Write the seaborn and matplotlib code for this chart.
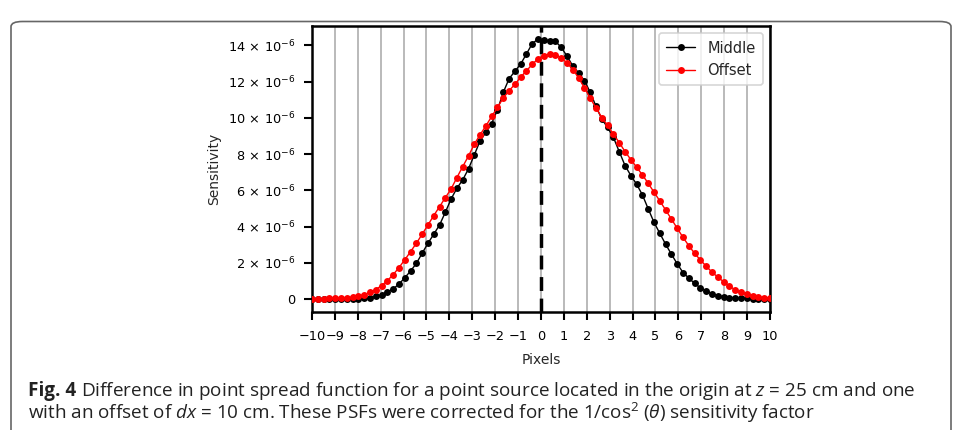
import numpy as np
import pandas as pd
import seaborn as sns
import matplotlib.pyplot as plt
from matplotlib.patches import FancyBboxPatch
from matplotlib.ticker import FuncFormatter

# sensitivity per detector pixel, in units of 1e-6
middle = [0.01, 0.01, 0.01, 0.01, 0.01, 0.02, 0.02, 0.03, 0.03, 0.05,
          0.09, 0.15, 0.24, 0.39, 0.57, 0.83, 1.18, 1.55, 1.97, 2.53,
          3.08, 3.58, 4.09, 4.79, 5.53, 6.12, 6.58, 7.19, 7.96, 8.73,
          9.21, 9.69, 10.45, 11.41, 12.16, 12.57, 12.97, 13.53, 14.10, 14.35,
          14.30, 14.26, 14.22, 13.89, 13.40, 12.86, 12.48, 12.05, 11.41, 10.63,
          9.93, 9.47, 8.92, 8.14, 7.37, 6.82, 6.34, 5.75, 4.98, 4.24,
          3.63, 3.03, 2.48, 1.95, 1.47, 1.16, 0.87, 0.63, 0.44, 0.31,
          0.20, 0.13, 0.09, 0.07, 0.05, 0.04, 0.03, 0.02, 0.02, 0.01]
offset = [0.02, 0.03, 0.03, 0.04, 0.05, 0.06, 0.08, 0.12, 0.17, 0.25,
          0.37, 0.53, 0.75, 1.02, 1.35, 1.74, 2.17, 2.62, 3.08, 3.58,
          4.09, 4.61, 5.10, 5.60, 6.08, 6.71, 7.31, 7.90, 8.55, 9.07,
          9.56, 10.08, 10.58, 11.10, 11.50, 11.85, 12.25, 12.60, 12.95, 13.27,
          13.43, 13.53, 13.49, 13.30, 13.03, 12.66, 12.20, 11.65, 11.09, 10.54,
          10.02, 9.58, 9.10, 8.64, 8.14, 7.70, 7.28, 6.85, 6.39, 5.90,
          5.42, 4.92, 4.42, 3.91, 3.41, 2.95, 2.53, 2.16, 1.82, 1.49,
          1.22, 0.96, 0.72, 0.52, 0.37, 0.26, 0.18, 0.13, 0.09, 0.06]
pixels = np.linspace(-10, 10, len(middle))
x_ticks = list(range(-10, 11))
y_ticks = [0, 2, 4, 6, 8, 10, 12, 14]

fig_label = "Fig. 4"
caption_1 = r"Difference in point spread function for a point source located in the origin at $z$ = 25 cm and one"
caption_2 = r"with an offset of $dx$ = 10 cm. These PSFs were corrected for the 1/cos$^2$ ($\theta$) sensitivity factor"

sns.set_style("ticks")
plt.rcParams["font.family"] = ["DejaVu Sans"]
plt.rcParams["mathtext.rm"] = "Open Sans"
plt.rcParams["mathtext.it"] = "Open Sans:italic"
plt.rcParams["mathtext.bf"] = "Open Sans:bold"

df = pd.DataFrame({"Pixels": pixels,
                   "Middle": np.array(middle) * 1e-6,
                   "Offset": np.array(offset) * 1e-6})

fig = plt.figure(figsize=(9.59, 4.30), dpi=100)
ax = fig.add_axes([0.3253, 0.2744, 0.4776, 0.6651])

ax.axvline(0, color="black", lw=2.5, ls=(0, (4, 2.2)), zorder=3)
sns.lineplot(data=df, x="Pixels", y="Middle", color="black", marker="o",
             markersize=5, markeredgewidth=0, lw=1, label="Middle", ax=ax, zorder=4)
sns.lineplot(data=df, x="Pixels", y="Offset", color="red", marker="o",
             markersize=5, markeredgewidth=0, lw=1, label="Offset", ax=ax, zorder=4)

ax.set_xlim(-10, 10)
ax.set_xticks(x_ticks)
ax.set_yticks([v * 1e-6 for v in y_ticks])


def sci_fmt(val, pos):
    n = int(round(val * 1e6))
    if n == 0:
        return "0"
    return r"$%d\,\times\,10^{-6}$" % n


ax.yaxis.set_major_formatter(FuncFormatter(sci_fmt))
ax.grid(axis="x", color="#b4b4b4", lw=1.3)
ax.grid(axis="y", visible=False)
for s in ax.spines.values():
    s.set_linewidth(1.8)
    s.set_color("black")
ax.tick_params(length=6, width=1.5, labelsize=9.3, color="black", labelcolor="black")
ax.tick_params(axis="y", pad=6)
ax.tick_params(axis="x", pad=7)
ax.set_xlabel("Pixels", fontsize=10, labelpad=7)
ax.set_ylabel("Sensitivity", fontsize=10, labelpad=5)

leg = ax.legend(loc="upper right", fontsize=10.5, frameon=True, fancybox=True,
                handlelength=2.0, borderpad=0.5)
leg.get_frame().set_edgecolor("#cccccc")
leg.get_frame().set_linewidth(1.2)

# caption and frame around the figure
box = FancyBboxPatch((11 / 959, -0.05), 940 / 959, 1.0, transform=fig.transFigure,
                     boxstyle="round,pad=0,rounding_size=0.012", fc="none",
                     ec="#666666", lw=1.2)
fig.patches.append(box)
cap_size = 13.6
t0 = fig.text(28 / 959, 1 - 396 / 430, fig_label, fontsize=cap_size, family="Open Sans",
              weight="bold", va="baseline", color="#222222")
fig.canvas.draw()
x_after = fig.transFigure.inverted().transform(
    (t0.get_window_extent().x1 + 5, 0))[0]
t1 = fig.text(x_after, 1 - 396 / 430, caption_1, fontsize=cap_size, family="Open Sans",
              va="baseline", color="#222222")
t2 = fig.text(28 / 959, 1 - 419 / 430, caption_2, fontsize=cap_size, family="Open Sans",
              va="baseline", color="#222222")
t1.set_math_fontfamily("custom")
t2.set_math_fontfamily("custom")

fig.savefig("out.png", dpi=100)
